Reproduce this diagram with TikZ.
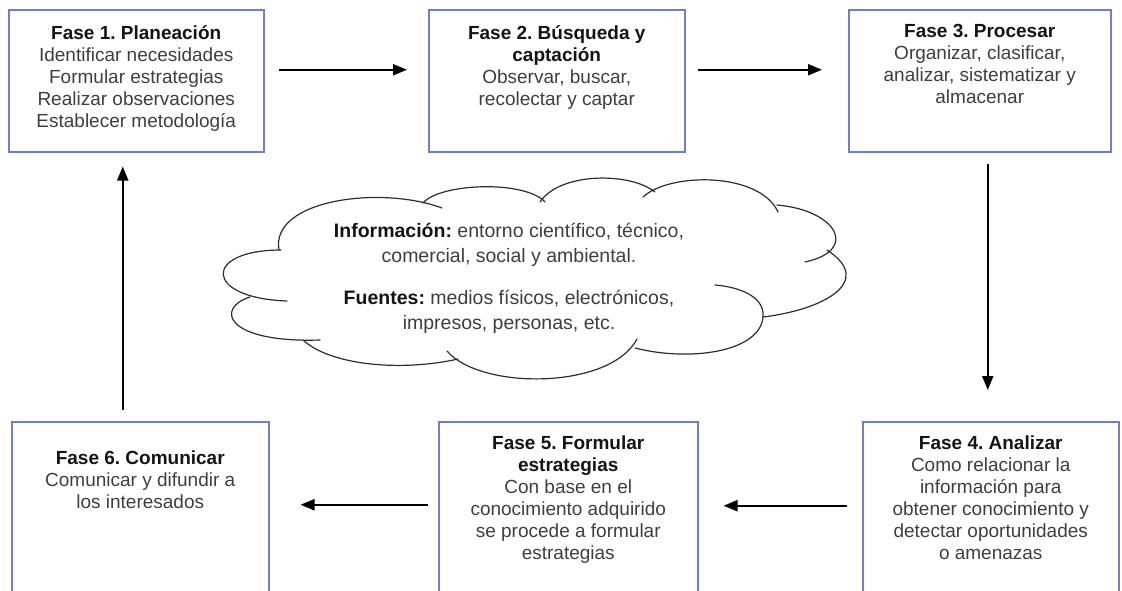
\documentclass[tikz,border=0pt]{standalone}
\usepackage{fontspec}
\setmainfont{Liberation Sans}
\usetikzlibrary{arrows.meta,calc}
\definecolor{boxc}{RGB}{112,128,186}
\definecolor{bodyc}{RGB}{62,62,62}
\definecolor{titlec}{RGB}{20,20,20}
\definecolor{cloudc}{RGB}{45,45,45}
\newcommand\phasetitle[1]{{\bfseries\color{titlec}#1}}
\frenchspacing
\begin{document}
\frenchspacing
\begin{tikzpicture}[x=1pt,y=-1pt,
  phase/.style={draw=boxc,line width=1.5pt,inner sep=0pt,anchor=north west},
  toprow/.style={phase,minimum height=142pt},
  botrow/.style={phase,minimum height=185pt},
  txt/.style={font=\fontsize{19}{22}\selectfont,text=bodyc,align=center,inner sep=0pt,anchor=north},
  arr/.style={line width=2pt,-{Triangle[length=14pt,width=11pt]}},
  cloudline/.style={draw=cloudc,line width=1.2pt,line cap=round}]
\useasboundingbox (0,0) rectangle (1122,590);
\clip (0,0) rectangle (1122,590);

% boxes
\node[toprow,minimum width=255pt] (b1) at (8,9) {};
\node[toprow,minimum width=256pt] (b2) at (428,9) {};
\node[toprow,minimum width=262pt] (b3) at (848,9) {};
\node[botrow,minimum width=256pt] (b4) at (862,421) {};
\node[botrow,minimum width=259pt] (b5) at (438,421) {};
\node[botrow,minimum width=257pt] (b6) at (11,421) {};

% texts
\node[txt] (t1) at ($(b1.north)+(0,16)$) {\phasetitle{Fase 1. Planeación}\\Identificar necesidades\\Formular estrategias\\Realizar observaciones\\Establecer metodología};
\node[txt] (t2) at ($(b2.north)+(0,16)$) {\phasetitle{Fase 2. Búsqueda y}\\\phasetitle{captación}\\Observar, buscar,\\recolectar y captar};
\node[txt] (t3) at ($(b3.north)+(0,15)$) {\phasetitle{Fase 3. Procesar}\\Organizar, clasificar,\\analizar, sistematizar y\\almacenar};
\node[txt] (t4) at ($(b4.north)+(0,14.5)$) {\phasetitle{Fase 4. Analizar}\\Como relacionar la\\información para\\obtener conocimiento y\\detectar oportunidades\\o amenazas};
\node[txt] (t5) at ($(b5.north)+(0,15)$) {\phasetitle{Fase 5. Formular}\\\phasetitle{estrategias}\\Con base en el\\conocimiento adquirido\\se procede a formular\\estrategias};
\node[txt] (t6) at ($(b6.north)+(0,30)$) {\phasetitle{Fase 6. Comunicar}\\Comunicar y difundir a\\los interesados};

% arrows
\draw[arr] ($(b1.east)+(14,-11)$) -- ($(b2.west)+(-21,-11)$);
\draw[arr] ($(b2.east)+(12,-11)$) -- ($(b3.west)+(-26,-11)$);
\draw[arr] ($(b3.south)+(8,11)$) -- ($(b4.north)+(-3,-31)$);
\draw[arr] ($(b4.west)+(-15,-8.5)$) -- ($(b5.east)+(25,-8.5)$);
\draw[arr] ($(b5.west)+(-10,-9.5)$) -- ($(b6.east)+(31,-9.5)$);
\draw[arr] ($(b6.north)+(-17.5,-11)$) -- ($(b1.south)+(-13.5,14)$);

% cloud outline
\draw[cloudline] (281,250) .. controls (203,250) and (203,298) .. (287,301);
\draw[cloudline] (250,297) .. controls (215,308) and (225,343) .. (320,340);
\draw[cloudline] (303,340) .. controls (330,365) and (400,372) .. (458,359);
\draw[cloudline] (447,351) .. controls (480,390) and (610,390) .. (637,339);
\draw[cloudline] (635,348) .. controls (690,362) and (760,352) .. (763,317)
                 .. controls (765,297) and (740,287) .. (715,285);
\draw[cloudline] (763,317) .. controls (822,310) and (876,282) .. (827,250);
\draw[cloudline] (777,205) .. controls (836,210) and (860,250) .. (805,262);
\draw[cloudline] (643,197) .. controls (670,172) and (760,172) .. (778,212);
\draw[cloudline] (540,202) .. controls (560,172) and (630,172) .. (655,192);
\draw[cloudline] (423,203) .. controls (440,183) and (525,180) .. (545,202);
\draw[cloudline] (279,250) .. controls (270,200) and (380,185) .. (442,208);

% cloud text
\node[font=\fontsize{19.5}{25}\selectfont,text=bodyc,align=center,inner sep=0pt,anchor=north] (info) at (509,223)
  {\phasetitle{Información:} entorno científico, técnico,\\comercial, social y ambiental.\\[17pt]\phasetitle{Fuentes:} medios físicos, electrónicos,\\impresos, personas, etc.};
\end{tikzpicture}
\end{document}
